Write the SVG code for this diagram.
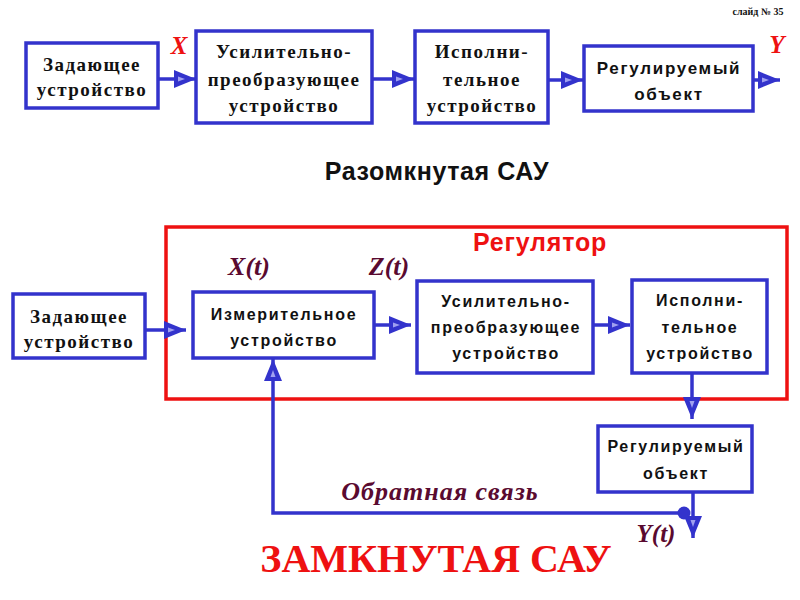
<svg xmlns="http://www.w3.org/2000/svg" width="800" height="600" viewBox="0 0 800 600">
<style>
.box{fill:#fff;stroke:#3333cc;stroke-width:3.5}
.ser{font-family:"Liberation Serif","Times New Roman",serif;font-weight:bold;font-size:19px;letter-spacing:1.5px;fill:#111;text-anchor:middle}
.san{font-family:"Liberation Sans",Arial,sans-serif;font-weight:bold;font-size:16px;letter-spacing:1.7px;fill:#111;text-anchor:middle}
.ln{stroke:#3333cc;stroke-width:3.5;fill:none}
.lab{font-family:"Liberation Serif","Times New Roman",serif;font-weight:bold;font-style:italic;fill:#5a0a30;text-anchor:middle}
.red{font-family:"Liberation Serif","Times New Roman",serif;font-weight:bold;font-style:italic;font-size:25px;fill:#ee1111;text-anchor:middle}
</style>
<defs>
<marker id="ah" viewBox="0 0 22 18" refX="22" refY="9" markerWidth="22" markerHeight="18" markerUnits="userSpaceOnUse" orient="auto">
<path d="M0,0 L22,9 L0,18 Z" fill="#3333cc"/>
<path d="M4,6.5 L11,9 L4,11.5 Z" fill="#a0a0f0"/>
</marker>
</defs>
<rect width="800" height="600" fill="#fff"/>
<text x="758" y="15" font-family="Liberation Serif,serif" font-weight="bold" font-size="10" text-anchor="middle" fill="#111">слайд № 35</text>

<g id="top-set"><rect class="box" x="26" y="43" width="132" height="65"/>
<text class="ser" x="92" y="71">Задающее</text><text class="ser" x="92" y="96">устройство</text></g>
<g id="top-amp"><rect class="box" x="196" y="31" width="176" height="92"/>
<text class="ser" x="284" y="58">Усилительно-</text><text class="ser" x="284" y="86">преобразующее</text><text class="ser" x="284" y="112">устройство</text></g>
<g id="top-act"><rect class="box" x="415" y="31" width="133" height="92"/>
<text class="ser" x="482" y="58">Исполни-</text><text class="ser" x="482" y="86">тельное</text><text class="ser" x="482" y="112">устройство</text></g>
<g id="top-obj"><rect class="box" x="584" y="46" width="169" height="65"/>
<text class="san" x="669" y="74" style="font-size:17px">Регулируемый</text><text class="san" x="669" y="100" style="font-size:17px">объект</text></g>

<text class="red" x="179" y="54">X</text>
<text class="red" x="777" y="53">Y</text>
<text x="437" y="180" font-family="Liberation Sans,Arial,sans-serif" font-weight="bold" font-size="25" letter-spacing="0.6" fill="#111" text-anchor="middle">Разомкнутая САУ</text>

<g id="regulator"><rect x="166" y="227" width="621" height="172" fill="none" stroke="#ee1111" stroke-width="3.5"/>
<text x="540" y="251" font-family="Liberation Sans,Arial,sans-serif" font-weight="bold" font-size="25" letter-spacing="0.8" fill="#ee1111" text-anchor="middle">Регулятор</text></g>

<g id="bot-set"><rect class="box" x="13" y="294" width="132" height="64"/>
<text class="ser" x="79" y="323">Задающее</text><text class="ser" x="79" y="348">устройство</text></g>
<g id="bot-meas"><rect class="box" x="193" y="292" width="181" height="66"/>
<text class="san" x="284" y="320">Измерительное</text><text class="san" x="284" y="346">устройство</text></g>
<g id="bot-amp"><rect class="box" x="417" y="281" width="176" height="92"/>
<text class="san" x="506" y="307">Усилительно-</text><text class="san" x="506" y="333">преобразующее</text><text class="san" x="506" y="359">устройство</text></g>
<g id="bot-act"><rect class="box" x="632" y="280" width="135" height="93"/>
<text class="san" x="700" y="306">Исполни-</text><text class="san" x="700" y="333">тельное</text><text class="san" x="700" y="359">устройство</text></g>
<g id="bot-obj"><rect class="box" x="598" y="426" width="154" height="66"/>
<text class="san" x="676" y="452">Регулируемый</text><text class="san" x="676" y="479">объект</text></g>

<text class="lab" x="249" y="275" font-size="26">X(t)</text>
<text class="lab" x="389" y="275" font-size="26">Z(t)</text>
<text class="lab" x="440" y="500" font-size="26" letter-spacing="1">Обратная связь</text>
<text class="lab" x="656" y="542" font-size="25">Y(t)</text>
<text x="436" y="572" font-family="Liberation Serif,serif" font-weight="bold" font-size="40" fill="#ee1111" text-anchor="middle">ЗАМКНУТАЯ САУ</text>

<g id="connectors">
<line class="ln" x1="158" y1="79" x2="196" y2="79" marker-end="url(#ah)"/>
<line class="ln" x1="372" y1="79" x2="414" y2="79" marker-end="url(#ah)"/>
<line class="ln" x1="548" y1="80" x2="583" y2="80" marker-end="url(#ah)"/>
<line class="ln" x1="753" y1="80" x2="780" y2="80" marker-end="url(#ah)"/>
<line class="ln" x1="145" y1="330" x2="186" y2="330" marker-end="url(#ah)"/>
<line class="ln" x1="374" y1="325" x2="411" y2="325" marker-end="url(#ah)"/>
<line class="ln" x1="593" y1="325" x2="630" y2="325" marker-end="url(#ah)"/>
<line class="ln" x1="692" y1="373" x2="692" y2="419" marker-end="url(#ah)"/>
<line class="ln" x1="693" y1="492" x2="693" y2="538" marker-end="url(#ah)"/>
<polyline class="ln" points="683,513 273,513 273,359" marker-end="url(#ah)"/>
<circle cx="684" cy="513" r="6.5" fill="#3333cc"/>
</g>
</svg>
